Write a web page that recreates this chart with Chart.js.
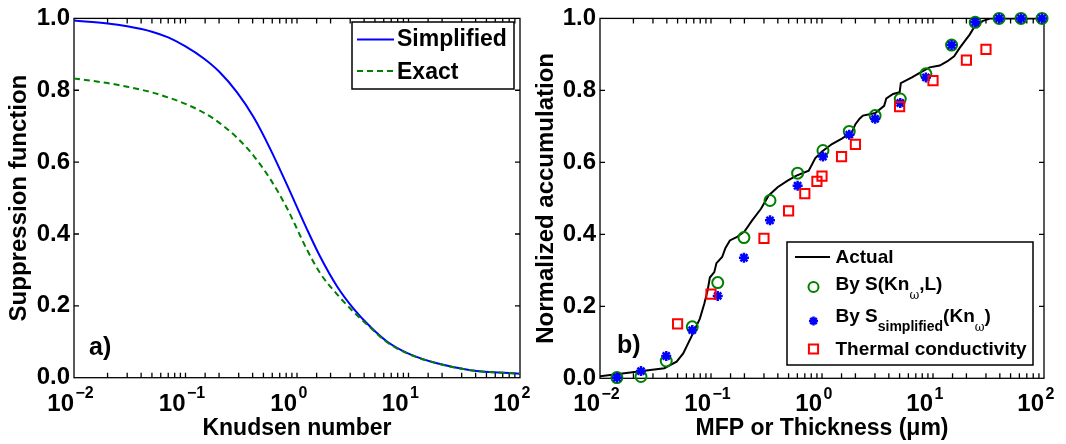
<!DOCTYPE html>
<html><head><meta charset="utf-8">
<script src="https://cdn.jsdelivr.net/npm/chart.js@4.4.0/dist/chart.umd.min.js"></script>
<style>
html,body{margin:0;padding:0;background:#fff;}
#wrap{position:relative;width:1066px;height:444px;overflow:hidden;background:#fff;}
.pane{position:absolute;top:0;height:444px;}
</style></head><body>
<div id="wrap">
<div class="pane" style="left:0;width:560px"><canvas id="c1" width="560" height="444"></canvas></div>
<div class="pane" style="left:533px;width:533px"><canvas id="c2" width="533" height="444"></canvas></div>
</div>
<script>
// ---------- Panel a) data ----------
const knudsen = [0.01, 0.02, 0.03, 0.05, 0.07, 0.1, 0.145, 0.2, 0.29, 0.41, 0.575, 0.81, 1.23, 1.62, 2.29, 3.24, 4.57, 6.46, 10, 18, 36, 100];
const suppressionSimplified = [0.994, 0.986, 0.978, 0.963, 0.947, 0.922, 0.889, 0.852, 0.794, 0.724, 0.637, 0.538, 0.413, 0.336, 0.254, 0.191, 0.141, 0.100, 0.067, 0.040, 0.021, 0.011];
const suppressionExact = [0.833, 0.820, 0.810, 0.794, 0.780, 0.762, 0.738, 0.710, 0.668, 0.617, 0.553, 0.473, 0.356, 0.290, 0.232, 0.182, 0.139, 0.098, 0.066, 0.040, 0.021, 0.011];

// ---------- Panel b) data ----------
const actualMfp = [0.01, 0.0141, 0.024, 0.038, 0.049, 0.0562, 0.0676, 0.0794, 0.0871, 0.0933, 0.0977, 0.107, 0.112, 0.126, 0.135, 0.148, 0.170, 0.200, 0.234, 0.282, 0.331, 0.398, 0.490, 0.589, 0.759, 0.871, 1.0, 1.23, 1.51, 1.86, 2.0, 2.19, 2.34, 3.02, 3.63, 3.80, 4.37, 5.01, 5.13, 6.46, 7.94, 9.33, 11.5, 13.5, 15.5, 17.4, 19.1, 21.4, 23.4, 28.2, 33.1, 100];
const actualAccum = [0.006, 0.011, 0.020, 0.028, 0.046, 0.069, 0.120, 0.166, 0.208, 0.245, 0.280, 0.295, 0.320, 0.337, 0.362, 0.383, 0.392, 0.408, 0.438, 0.471, 0.508, 0.531, 0.549, 0.563, 0.577, 0.612, 0.630, 0.651, 0.666, 0.684, 0.706, 0.722, 0.730, 0.737, 0.757, 0.778, 0.790, 0.795, 0.820, 0.836, 0.852, 0.864, 0.869, 0.881, 0.895, 0.918, 0.935, 0.955, 0.975, 0.993, 1.0, 1.0];
const markerMfp = [0.0142, 0.0234, 0.0395, 0.0678, 0.115, 0.198, 0.340, 0.603, 1.02, 1.76, 3.01, 5.07, 8.63, 14.7, 24.0, 39.4, 62.1, 96.0];
const accumBySKnL = [0.002, 0.005, 0.048, 0.143, 0.266, 0.391, 0.494, 0.570, 0.633, 0.686, 0.730, 0.776, 0.846, 0.926, 0.989, 1.0, 1.0, 1.0];
const accumBySimplified = [0.002, 0.020, 0.062, 0.134, 0.229, 0.335, 0.439, 0.535, 0.616, 0.677, 0.721, 0.765, 0.836, 0.926, 0.989, 1.0, 1.0, 1.0];
const conductivityThickness = [0.05, 0.1, 0.3, 0.5, 0.7, 0.9, 1.0, 1.5, 2, 5, 10, 20, 30];
const conductivityAccum = [0.151, 0.234, 0.389, 0.465, 0.513, 0.547, 0.562, 0.616, 0.650, 0.755, 0.827, 0.884, 0.914];

// ---------- axis ticks ----------
const xMin = 0.01, xMax = 100;
const yTickValues = [0, 0.2, 0.4, 0.6, 0.8, 1.0];

const FONT = '"Liberation Sans", Arial, Helvetica, sans-serif';
Chart.defaults.font.family = FONT;
Chart.defaults.color = '#000';

function pts(xs, ys){ return xs.map((x,i)=>({x:x, y:ys[i]})); }
function isPow10(v){ const e=Math.log10(v); return Math.abs(e-Math.round(e))<1e-6; }

const framePlugin = {
  id:'frame',
  beforeDatasetsDraw(chart){
    const {ctx, chartArea:a, scales:{x,y}} = chart;
    ctx.save();
    ctx.strokeStyle='#000'; ctx.lineWidth=1.3;
    ctx.strokeRect(a.left,a.top,a.right-a.left,a.bottom-a.top);
    ctx.beginPath();
    const L=5;
    x.ticks.forEach(t=>{const p=x.getPixelForValue(t.value); if(p<a.left+0.5||p>a.right-0.5) return;
      ctx.moveTo(p,a.bottom);ctx.lineTo(p,a.bottom-L);ctx.moveTo(p,a.top);ctx.lineTo(p,a.top+L);});
    y.ticks.forEach(t=>{const p=y.getPixelForValue(t.value); if(p<a.top+0.5||p>a.bottom-0.5) return;
      ctx.moveTo(a.left,p);ctx.lineTo(a.left+L,p);ctx.moveTo(a.right,p);ctx.lineTo(a.right-L,p);});
    ctx.stroke();
    ctx.restore();
  },
  afterDraw(chart){
    const {ctx, scales:{x}, chartArea:a} = chart;
    ctx.save();
    ctx.fillStyle='#000'; ctx.font='bold 16px '+FONT; ctx.textAlign='left'; ctx.textBaseline='alphabetic';
    x.ticks.forEach(t=>{ if(!isPow10(t.value)) return; const e=Math.round(Math.log10(t.value));
      const p=x.getPixelForValue(t.value); ctx.fillText((e<0?'\u2212':'')+Math.abs(e), p+1.5, a.bottom+20.5);});
    ctx.restore();
  }
};

function drawRich(ctx, parts, x, y){
  let cx = x;
  parts.forEach(p=>{ ctx.font = p.f; ctx.fillText(p.t, cx, y + (p.dy||0)); cx += ctx.measureText(p.t).width + (p.gap||0); });
}

function baseOptions(o){
  return {
    responsive:false, animation:false, devicePixelRatio:1,
    layout:{padding:{top:o.padTop, right:o.padRight, left:0, bottom:0}},
    plugins:{legend:{display:false}, tooltip:{enabled:false}},
    scales:{
      x:{type:'logarithmic', min:xMin, max:xMax,
        afterFit(s){ s.height = o.xHeight; },
        grid:{display:false, drawTicks:false}, border:{display:false},
        ticks:{autoSkip:false, maxRotation:0, minRotation:0, align:'end', padding:o.xTickPad,
          font:{size:24, weight:'bold'}, color:'#000',
          callback:(v)=> isPow10(v) ? '10' : ''},
        title:{display:true, text:o.xTitle, color:'#000', font:{size:23, weight:'bold', lineHeight:1}, padding:{top:0,bottom:o.xTitlePad}}
      },
      y:{type:'linear', min:0, max:1,
        afterFit(s){ s.width = o.yWidth; },
        afterBuildTicks(s){ s.ticks = yTickValues.map(v=>({value:v})); },
        grid:{display:false, drawTicks:false}, border:{display:false},
        ticks:{padding:4, font:{size:24, weight:'bold'}, color:'#000', callback:(v)=>Number(v).toFixed(1)},
        title:{display:true, text:o.yTitle, color:'#000', font:{size:24, weight:'bold', lineHeight:1}, padding:{top:o.yTitlePad,bottom:0}}
      }
    }
  };
}

// ---------- Chart a) ----------
const legendA = {
  id:'legendA',
  afterDraw(chart){
    const ctx = chart.ctx; ctx.save();
    ctx.fillStyle='#fff'; ctx.fillRect(352,22,162,67);
    ctx.strokeStyle='#000'; ctx.lineWidth=1.5; ctx.strokeRect(352,22,162,67);
    ctx.lineWidth=2; ctx.strokeStyle='#0000ff'; ctx.beginPath(); ctx.moveTo(357,39.5); ctx.lineTo(394,39.5); ctx.stroke();
    ctx.strokeStyle='#008000'; ctx.setLineDash([6,4]); ctx.beginPath(); ctx.moveTo(357,71); ctx.lineTo(394,71); ctx.stroke(); ctx.setLineDash([]);
    ctx.fillStyle='#000'; ctx.textAlign='left'; ctx.textBaseline='middle'; ctx.font='bold 23px '+FONT;
    ctx.fillText('Simplified', 397, 40); ctx.fillText('Exact', 397, 73);
    ctx.font='bold 25px '+FONT; ctx.textBaseline='alphabetic'; ctx.fillText('a)', 89, 355);
    ctx.restore();
  }
};
new Chart(document.getElementById('c1'), {
  type:'scatter',
  data:{datasets:[
    {label:'Simplified', data:pts(knudsen, suppressionSimplified), showLine:true, borderColor:'#0000ff', borderWidth:2, pointRadius:0, cubicInterpolationMode:'monotone', order:1},
    {label:'Exact', data:pts(knudsen, suppressionExact), showLine:true, borderColor:'#008000', borderWidth:2, borderDash:[6,4], pointRadius:0, cubicInterpolationMode:'monotone', order:0}
  ]},
  options: baseOptions({padTop:15.5, padRight:40, xHeight:66.3, yWidth:74, xTickPad:12, xTitlePad:3.5, yTitlePad:7.5,
    xTitle:'Knudsen number', yTitle:'Suppression function'}),
  plugins:[framePlugin, legendA]
});

// ---------- Chart b) ----------
const legendB = {
  id:'legendB',
  afterDraw(chart){
    const ctx = chart.ctx; ctx.save();
    const bx=254, by=242, bw=246, bh=123;
    ctx.fillStyle='#fff'; ctx.fillRect(bx,by,bw,bh);
    ctx.strokeStyle='#000'; ctx.lineWidth=1.5; ctx.strokeRect(bx,by,bw,bh);
    ctx.lineWidth=2; ctx.beginPath(); ctx.moveTo(262,257); ctx.lineTo(297,257); ctx.stroke();
    const dp = Chart.helpers.drawPoint;
    ctx.strokeStyle='#008000'; ctx.fillStyle='rgba(0,0,0,0)'; ctx.lineWidth=2;
    dp(ctx,{pointStyle:'circle', radius:5, rotation:0, borderWidth:2}, 280.5, 287);
    ctx.strokeStyle='#0000ff'; ctx.lineWidth=2.5;
    dp(ctx,{pointStyle:'star', radius:4.5, rotation:0, borderWidth:2.5}, 280.5, 321);
    ctx.strokeStyle='#ff0000'; ctx.fillStyle='rgba(0,0,0,0)'; ctx.lineWidth=2;
    dp(ctx,{pointStyle:'rect', radius:6.5, rotation:0, borderWidth:2}, 280.5, 349);
    ctx.fillStyle='#000'; ctx.textAlign='left'; ctx.textBaseline='middle';
    const M='bold 19px '+FONT, S='bold 14px '+FONT, W='12px "DejaVu Serif", serif';
    drawRich(ctx,[{t:'Actual',f:M}],302.5,258);
    drawRich(ctx,[{t:'By S(Kn',f:M},{t:'\u03c9',f:W,dy:11},{t:',L)',f:M}],302.5,285);
    drawRich(ctx,[{t:'By S',f:M},{t:'simplified',f:S,dy:10},{t:'(Kn',f:M},{t:'\u03c9',f:W,dy:11},{t:')',f:M}],302.5,317);
    drawRich(ctx,[{t:'Thermal conductivity',f:M}],302.5,350);
    ctx.font='bold 25px '+FONT; ctx.textBaseline='alphabetic'; ctx.fillText('b)', 84, 353);
    ctx.restore();
  }
};
new Chart(document.getElementById('c2'), {
  type:'scatter',
  data:{datasets:[
    {label:'Actual', data:pts(actualMfp, actualAccum), showLine:true, borderColor:'#000', borderWidth:2, pointRadius:0, tension:0, order:3},
    {label:'By S(Kn\u03c9,L)', data:pts(markerMfp, accumBySKnL), showLine:false, pointStyle:'circle', pointRadius:5.5, borderColor:'#008000', backgroundColor:'rgba(0,0,0,0)', pointBorderWidth:2, clip:false, order:2},
    {label:'By Ssimplified(Kn\u03c9)', data:pts(markerMfp, accumBySimplified), showLine:false, pointStyle:'star', pointRadius:5, borderColor:'#0000ff', backgroundColor:'#0000ff', pointBorderWidth:2.5, clip:false, order:1},
    {label:'Thermal conductivity', data:pts(conductivityThickness, conductivityAccum), showLine:false, pointStyle:'rect', pointRadius:6.5, borderColor:'#ff0000', backgroundColor:'rgba(0,0,0,0)', pointBorderWidth:2, clip:false, order:0}
  ]},
  options: baseOptions({padTop:17.5, padRight:22, xHeight:65.7, yWidth:67, xTickPad:12, xTitlePad:3.5, yTitlePad:1.6,
    xTitle:'MFP or Thickness (\u03bcm)', yTitle:'Normalized accumulation'}),
  plugins:[framePlugin, legendB]
});
</script>
</body></html>
